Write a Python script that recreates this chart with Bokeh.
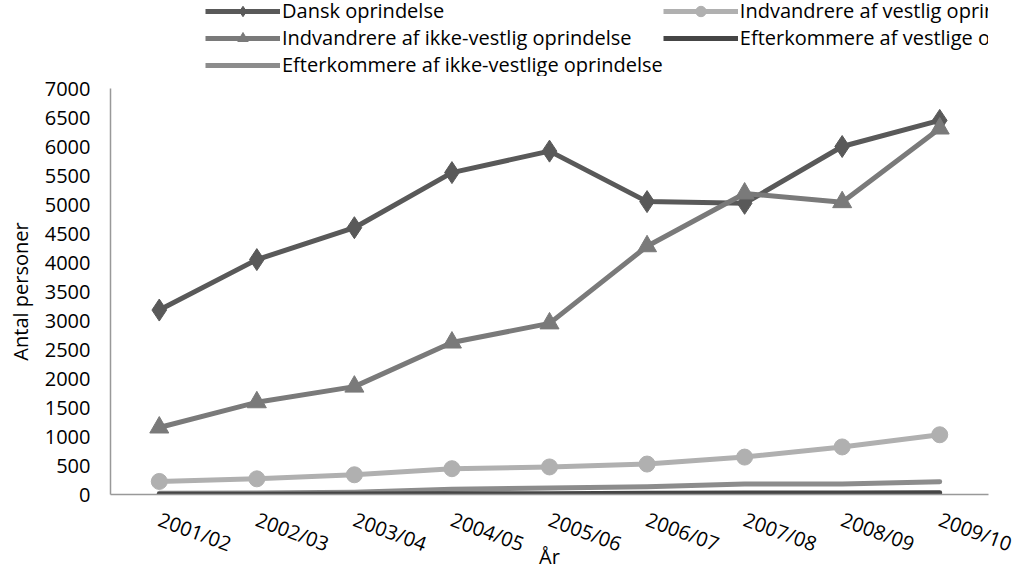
from bokeh.plotting import figure
from bokeh.models import Legend, LegendItem, Range1d
from bokeh.layouts import column
from bokeh.embed import file_html
from bokeh.resources import INLINE

years = ["2001/02", "2002/03", "2003/04", "2004/05", "2005/06",
         "2006/07", "2007/08", "2008/09", "2009/10"]
dansk = [3180, 4050, 4600, 5550, 5920, 5050, 5020, 6000, 6450]
indv_vest = [225, 270, 340, 445, 475, 525, 645, 820, 1030]
indv_ikke = [1155, 1590, 1860, 2620, 2950, 4280, 5190, 5040, 6310]
eft_vest = [5, 5, 10, 15, 15, 20, 25, 25, 30]
eft_ikke = [20, 25, 40, 90, 110, 135, 180, 180, 220]
y_ticks = list(range(0, 7001, 500))

FONT = "Open Sans"
FS = "20px"

# legend strip on top (its own frame so the legend is not clipped)
top = figure(x_range=years, width=1021, height=76, output_backend="svg",
             toolbar_location=None, x_axis_location=None, y_axis_location=None,
             min_border=0)
top.y_range = Range1d(-2, -1)   # keeps the strip's own copies of the series out of view
top.outline_line_color = None
top.grid.visible = False

p = figure(x_range=years, width=1021, height=496, output_backend="svg",
           toolbar_location=None, min_border_left=110, min_border_right=33,
           min_border_bottom=78, min_border_top=12)
p.y_range = Range1d(0, 7000)
p.outline_line_color = None
p.grid.visible = False
p.background_fill_color = "white"

series = [
    ("Dansk oprindelse", dansk, "#595959", "diamond", 22),
    ("Indvandrere af ikke-vestlig oprindelse", indv_ikke, "#7a7a7a", "triangle", 19),
    ("Efterkommere af ikke-vestlige oprindelse", eft_ikke, "#8c8c8c", None, 0),
    ("Indvandrere af vestlig oprindelse", indv_vest, "#b0b0b0", "circle", 16),
    ("Efterkommere af vestlige oprindelse", eft_vest, "#454545", None, 0),
]

items = []
for name, vals, col, mk, sz in series:
    p.line(years, vals, line_color=col, line_width=5, line_cap="round",
           line_join="round")
    if mk:
        p.scatter(years, vals, marker=mk, size=sz, fill_color=col, line_color=col)
    r = [top.line(years, vals, line_color=col, line_width=5)]
    if mk:
        r.append(top.scatter(years, vals, marker=mk, size=sz, fill_color=col,
                             line_color=col))
    items.append(LegendItem(label=name, renderers=r))

legend = Legend(items=items, orientation="vertical", nrows=3,
                location=(95, -2), border_line_color=None,
                background_fill_alpha=0, padding=0, margin=0, spacing=0,
                glyph_width=75, glyph_height=26, label_height=26,
                label_standoff=2, label_text_font=FONT,
                label_text_font_size=FS, label_text_color="#000000",
                label_text_baseline="middle")
top.add_layout(legend, "center")

for ax in (p.xaxis, p.yaxis):
    ax.axis_line_color = "#999999"
    ax.axis_line_width = 1.5
    ax.major_tick_line_color = None
    ax.minor_tick_line_color = None
    ax.major_label_text_font = FONT
    ax.major_label_text_font_size = FS
    ax.major_label_text_color = "#000000"
    ax.axis_label_text_font = FONT
    ax.axis_label_text_font_size = FS
    ax.axis_label_text_font_style = "normal"
    ax.axis_label_text_color = "#000000"

p.yaxis.ticker = y_ticks
p.yaxis.axis_label = "Antal personer"
p.yaxis.major_label_standoff = 14
p.yaxis.axis_label_standoff = 8
p.xaxis.axis_label = "År"
p.xaxis.axis_label_standoff = -30
p.xaxis.major_label_orientation = -0.35
p.xaxis.major_label_standoff = 18
p.x_range.range_padding = 0.0
p.x_range.factor_padding = 0.0

open("out.html", "w").write(file_html(column(top, p), INLINE))
